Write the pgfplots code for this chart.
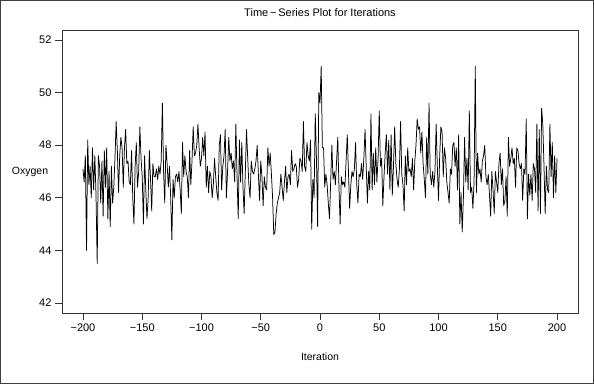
\documentclass[border=0pt]{standalone}
\usepackage{pgfplots}
\usepackage{pgfplotstable}
\pgfplotsset{compat=1.18}
\usepackage{fontspec}
\setmainfont{Liberation Sans}
\pgfplotstableread[row sep=\\]{
y\\
47.1\\46.6\\47.6\\44.0\\48.2\\46.5\\47.2\\46.0\\47.9\\46.3\\47.6\\46.1\\43.5\\47.6\\47.2\\45.8\\47.4\\45.3\\47.8\\46.4\\47.9\\45.2\\47.0\\44.9\\47.2\\45.8\\46.4\\47.5\\48.9\\47.8\\46.2\\47.6\\48.3\\47.9\\46.4\\
47.9\\48.6\\47.3\\47.4\\46.6\\46.5\\47.8\\46.0\\45.0\\47.2\\48.1\\46.4\\47.0\\48.7\\47.5\\46.8\\45.0\\47.6\\46.3\\45.2\\46.0\\47.8\\46.7\\45.5\\47.3\\46.8\\46.8\\47.1\\
46.7\\47.2\\46.9\\47.4\\49.6\\47.0\\45.8\\48.0\\47.3\\
46.4\\47.2\\46.0\\44.4\\46.7\\46.0\\46.8\\46.9\\46.6\\47.0\\46.3\\45.4\\48.1\\46.8\\47.6\\47.0\\46.8\\46.0\\47.8\\46.5\\47.4\\48.7\\47.6\\47.7\\48.0\\48.8\\47.9\\47.2\\47.5\\48.3\\47.6\\48.5\\46.4\\47.2\\46.2\\47.0\\46.8\\
46.0\\46.5\\47.5\\46.8\\46.2\\45.9\\48.0\\48.4\\46.3\\47.2\\47.6\\48.6\\46.0\\47.0\\48.3\\47.4\\47.7\\47.1\\47.4\\46.6\\48.8\\46.8\\45.2\\48.2\\46.6\\48.1\\46.4\\45.4\\47.0\\48.6\\47.5\\46.5\\46.0\\47.4\\47.0\\46.9\\47.1\\
47.4\\48.0\\46.9\\45.9\\47.4\\46.8\\45.7\\46.8\\46.4\\46.3\\47.9\\47.2\\47.7\\46.9\\46.0\\44.6\\44.7\\45.4\\45.8\\46.0\\46.2\\46.9\\46.4\\45.9\\46.6\\47.2\\46.2\\46.8\\46.9\\46.5\\47.8\\47.0\\47.1\\47.3\\47.2\\46.4\\46.7\\47.5\\
47.4\\47.0\\48.9\\47.2\\47.0\\48.1\\47.6\\47.4\\48.2\\44.8\\46.7\\46.0\\49.2\\47.5\\44.9\\50.0\\49.6\\51.0\\47.9\\47.9\\46.4\\46.9\\46.5\\45.8\\45.2\\46.6\\48.0\\46.7\\47.0\\46.5\\47.4\\48.3\\46.4\\45.0\\46.8\\46.5\\46.6\\
46.4\\47.4\\48.4\\47.0\\45.6\\46.5\\47.0\\46.8\\47.1\\48.1\\46.5\\45.8\\46.9\\46.8\\47.3\\46.7\\47.5\\48.6\\47.2\\45.8\\47.0\\46.3\\49.2\\46.3\\47.7\\46.5\\47.9\\46.6\\47.5\\49.3\\47.2\\47.5\\45.7\\46.8\\47.7\\48.4\\46.9\\
48.2\\46.3\\48.4\\46.1\\47.2\\48.7\\47.3\\46.7\\46.4\\47.1\\48.9\\46.9\\46.5\\45.5\\47.6\\46.5\\47.9\\47.0\\47.1\\46.8\\47.5\\46.3\\47.4\\48.0\\49.0\\48.6\\48.7\\47.7\\48.5\\47.3\\46.7\\46.0\\48.3\\46.9\\49.6\\46.9\\46.5\\
47.0\\46.4\\47.0\\48.8\\47.2\\45.9\\47.6\\48.7\\48.5\\46.8\\47.9\\47.5\\46.6\\46.2\\45.8\\47.1\\46.9\\48.0\\48.1\\47.2\\47.9\\46.3\\48.4\\45.0\\46.2\\44.7\\46.0\\48.3\\46.6\\47.5\\46.3\\49.3\\46.2\\46.4\\45.6\\46.6\\51.0\\
46.2\\47.7\\46.9\\47.1\\46.6\\47.4\\47.6\\48.0\\46.8\\46.5\\46.9\\46.1\\45.3\\47.0\\46.3\\45.4\\47.0\\46.6\\46.2\\47.3\\47.7\\46.5\\47.1\\45.7\\45.9\\46.8\\45.3\\48.3\\47.2\\47.5\\47.9\\47.3\\47.5\\46.4\\47.9\\47.8\\47.3\\
47.1\\47.3\\45.9\\47.1\\46.9\\49.0\\45.2\\46.9\\46.1\\46.9\\45.9\\47.3\\47.1\\46.2\\48.8\\45.5\\48.6\\45.4\\49.4\\48.8\\47.2\\45.4\\47.2\\46.3\\46.2\\48.8\\46.8\\48.1\\46.0\\47.6\\46.2\\47.5\\
}\oxy
\begin{document}
\begin{tikzpicture}
\useasboundingbox (0,0) rectangle (594pt,384pt);
\draw[line width=0.8pt, black!75] (0.5pt,0.5pt) rectangle (593.5pt,383.5pt);
\node[font=\fontsize{11}{13}\selectfont, anchor=center] at (320pt,371pt) {Time\,−\,Series Plot for Iterations};
\begin{axis}[
  at={(62pt,71pt)}, anchor=south west,
  scale only axis, width=516pt, height=283pt,
  xmin=-217.7, xmax=217.7, ymin=41.62, ymax=52.38,
  xtick={-200,-150,-100,-50,0,50,100,150,200},
  xticklabels={−200,−150,−100,−50,0,50,100,150,200},
  ytick={42,44,46,48,50,52},
  yticklabels={42,44,46,48,50,52},
  xtick pos=left, ytick pos=left,
  tick align=outside, major tick length=7pt,
  axis line style={line width=0.8pt, black!80},
  every tick/.style={line width=0.8pt, black!80},
  tick label style={font=\fontsize{11}{13}\selectfont},
  xlabel={Iteration},
  xlabel style={font=\fontsize{10.5}{12}\selectfont, at={(axis description cs:0.5,-0.155)}, anchor=center},
  ylabel={Oxygen},
  ylabel style={font=\fontsize{10.5}{12}\selectfont, at={(axis description cs:-0.062,0.5)}, anchor=center, rotate=-90},
]
\addplot[black, line width=0.75pt, line join=round, no marks] table[x expr=\coordindex-200, y=y] {\oxy};
\end{axis}
\end{tikzpicture}
\end{document}
